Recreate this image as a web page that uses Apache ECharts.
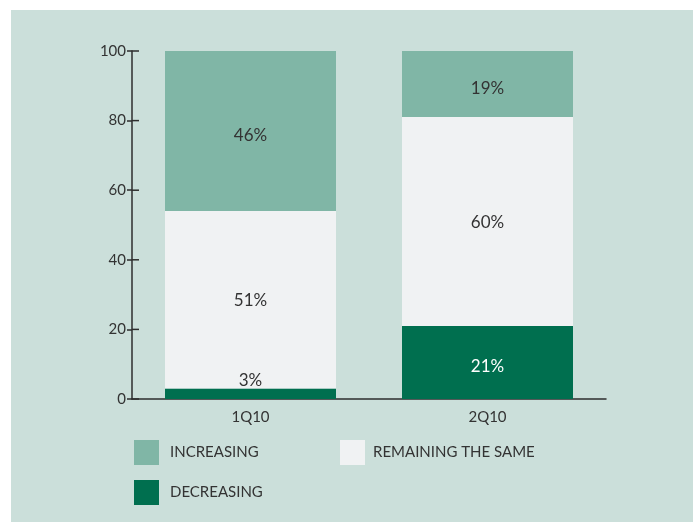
<!DOCTYPE html>
<html>
<head>
<meta charset="utf-8">
<script src="https://cdn.jsdelivr.net/npm/echarts@6/dist/echarts.min.js"></script>
<style>
  html, body { margin: 0; padding: 0; background: #ffffff; }
  #chart { width: 693px; height: 522px; }
</style>
</head>
<body>
<div id="chart"></div>
<script>
// 数据
const categories = ['1Q10', '2Q10'];
const decreasing = [3, 21];
const remaining = [51, 60];
const increasing = [46, 19];
const yTicks = [0, 20, 40, 60, 80, 100];

const FONT = 'Lato';
const TEXT = '#333333';
const AXIS = '#2e2e2e';

const colors = {
    increasing: '#80b6a6',
    remaining: '#f0f2f3',
    decreasing: '#006f4f'
};

const GRID_LEFT = 132, GRID_RIGHT = 87;

const chart = echarts.init(document.getElementById('chart'));

function pctLabel(color, dy) {
    return {
        show: true,
        position: 'inside',
        offset: [0, dy],
        color: color,
        fontFamily: FONT,
        fontSize: 17,
        formatter: p => p.value + '%'
    };
}

// 3% 的标签放在条形上方，其余居中
const decData = decreasing.map(v => ({
    value: v,
    label: v < 8 ? { position: 'top', distance: 2, offset: [0, 2], color: TEXT } : {}
}));

const legendBase = {
    itemWidth: 25, itemHeight: 25, itemGap: 0, padding: 0,
    icon: 'rect'
};

const bgRect = {
    id: 'bg',
    type: 'rect',
    z: -10,
    shape: { x: 11, y: 10, width: 682, height: 512 },
    style: { fill: '#cbdfda' }
};

const option = {
    backgroundColor: '#ffffff',
    animation: false,
    graphic: [bgRect],
    grid: { left: GRID_LEFT, right: GRID_RIGHT, top: 51, bottom: 123 },
    xAxis: {
        type: 'category',
        data: categories,
        axisLine: { lineStyle: { color: AXIS, width: 1.5 } },
        axisTick: { inside: true, length: 8, lineStyle: { color: AXIS, width: 1.5 } },
        axisLabel: { color: TEXT, fontFamily: FONT, fontSize: 15, margin: 11 }
    },
    yAxis: {
        type: 'value',
        min: 0, max: 100, interval: 20,
        axisLine: { show: true, lineStyle: { color: AXIS, width: 1.5 } },
        axisTick: { show: true, length: 5, lineStyle: { color: AXIS, width: 1.5 } },
        axisLabel: {
            color: TEXT, fontFamily: FONT, fontSize: 15, margin: 6,
            formatter: v => yTicks.includes(v) ? String(v) : ''
        },
        splitLine: { show: false }
    },
    legend: [
        Object.assign({}, legendBase, {
            left: 134, top: 440,
            data: ['INCREASING'],
            textStyle: { color: TEXT, fontFamily: FONT, fontSize: 15, padding: [2, 0, 0, 6] }
        }),
        Object.assign({}, legendBase, {
            left: 340, top: 440,
            data: ['REMAINING THE SAME'],
            textStyle: { color: TEXT, fontFamily: FONT, fontSize: 15, padding: [2, 0, 0, 3] }
        }),
        Object.assign({}, legendBase, {
            left: 134, top: 480,
            data: ['DECREASING'],
            textStyle: { color: TEXT, fontFamily: FONT, fontSize: 15, padding: [2, 0, 0, 6] }
        })
    ],
    series: [{
        name: 'DECREASING',
        type: 'bar',
        stack: 'total',
        barWidth: 171,
        data: decData,
        itemStyle: { color: colors.decreasing },
        label: pctLabel('#ffffff', 4)
    }, {
        name: 'REMAINING THE SAME',
        type: 'bar',
        stack: 'total',
        barWidth: 171,
        data: remaining,
        itemStyle: { color: colors.remaining },
        label: pctLabel(TEXT, 1)
    }, {
        name: 'INCREASING',
        type: 'bar',
        stack: 'total',
        barWidth: 171,
        data: increasing,
        itemStyle: { color: colors.increasing },
        label: pctLabel(TEXT, 4)
    }]
};

chart.setOption(option);

// y 轴刻度在轴线右侧再延伸一段（横穿轴线），位置由坐标轴换算
const tickLines = yTicks.map((v, i) => {
    const pt = chart.convertToPixel({ gridIndex: 0 }, [categories[0], v]);
    return {
        id: 'ytick' + i,
        type: 'line',
        z: 100,
        shape: { x1: GRID_LEFT, y1: pt[1], x2: GRID_LEFT + 7, y2: pt[1] },
        style: { stroke: AXIS, lineWidth: 1.5 }
    };
});
chart.setOption({ graphic: tickLines });
</script>
</body>
</html>
